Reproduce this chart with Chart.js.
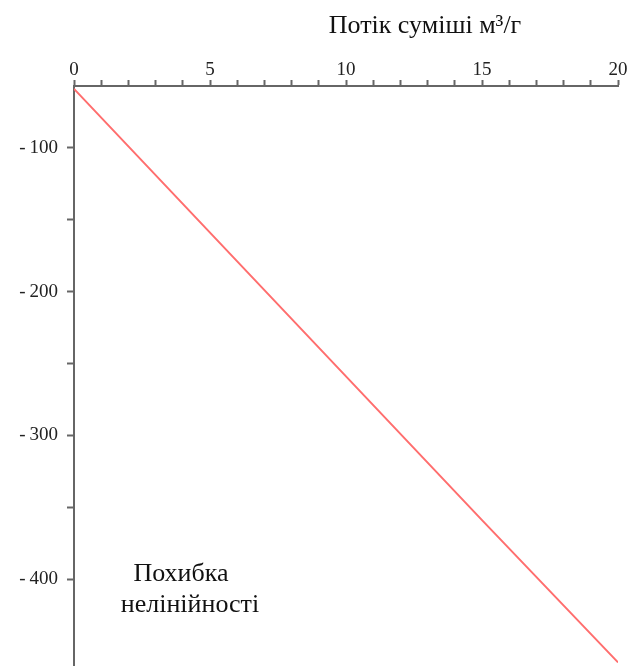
<!DOCTYPE html>
<html>
<head>
<meta charset="utf-8">
<script src="https://cdn.jsdelivr.net/npm/chart.js@4"></script>
<style>
  html, body { margin: 0; padding: 0; background: #fff; }
  #wrap { width: 629px; height: 666px; }
</style>
</head>
<body>
<div id="wrap"><canvas id="chart"></canvas></div>
<script>
// data
const flow = [0, 5, 10, 15, 20];                 // Потік суміші, м3/г
const nonlinError = [-59, -159, -259, -359, -458]; // Похибка нелінійності
const xTitle = 'Потік суміші м³/г';
const yTitle = ['Похибка', 'нелінійності'];

const serif = "'Liberation Serif', 'DejaVu Serif', serif";
const axisColor = '#666';

// draws the two axis captions where the original puts them
const captions = {
  id: 'captions',
  afterDraw(chart) {
    const ctx = chart.ctx;
    ctx.save();
    ctx.fillStyle = '#111';
    ctx.textAlign = 'center';
    ctx.textBaseline = 'alphabetic';
    ctx.font = '26px ' + serif;
    ctx.fillText(xTitle, 425, 33);
    ctx.fillText(yTitle[0], 181, 581);
    ctx.fillText(yTitle[1], 190, 612);
    ctx.restore();
  }
};

new Chart(document.getElementById('chart'), {
  type: 'line',
  data: {
    datasets: [{
      data: flow.map((x, i) => ({ x: x, y: nonlinError[i] })),
      borderColor: '#ff6e6e',
      borderWidth: 2,
      pointRadius: 0,
      tension: 0,
      fill: false
    }]
  },
  options: {
    responsive: true,
    maintainAspectRatio: false,
    animation: false,
    layout: { padding: { left: 0, right: 11, top: 0, bottom: 0 } },
    plugins: { legend: { display: false }, tooltip: { enabled: false } },
    scales: {
      x: {
        type: 'linear',
        position: 'top',
        min: 0,
        max: 20,
        border: { display: true, color: axisColor, width: 2 },
        grid: { drawOnChartArea: false, drawTicks: true, tickLength: 6, tickColor: axisColor, tickWidth: 2 },
        ticks: {
          stepSize: 1,
          autoSkip: false,
          maxRotation: 0,
          padding: -1,
          color: '#222',
          font: { family: serif, size: 19 },
          callback: v => (v % 5 === 0 ? String(v) : '')
        },
        afterFit: s => { s.height = 86; s.paddingLeft = 0; s.paddingRight = 0; }
      },
      y: {
        type: 'linear',
        position: 'left',
        min: -460.5,
        max: -57,
        border: { display: true, color: axisColor, width: 2 },
        grid: { drawOnChartArea: false, drawTicks: true, tickLength: 7, tickColor: axisColor, tickWidth: 2 },
        ticks: {
          stepSize: 50,
          autoSkip: false,
          padding: 9,
          color: '#222',
          font: { family: serif, size: 19 },
          callback: v => (v % 100 === 0 ? '-\u2009' + Math.abs(v) : '')
        },
        afterBuildTicks: s => { s.ticks = s.ticks.filter(t => t.value % 50 === 0); },
        afterFit: s => { s.width = 74; s.paddingTop = 0; s.paddingBottom = 0; }
      }
    }
  },
  plugins: [captions]
});
</script>
</body>
</html>
